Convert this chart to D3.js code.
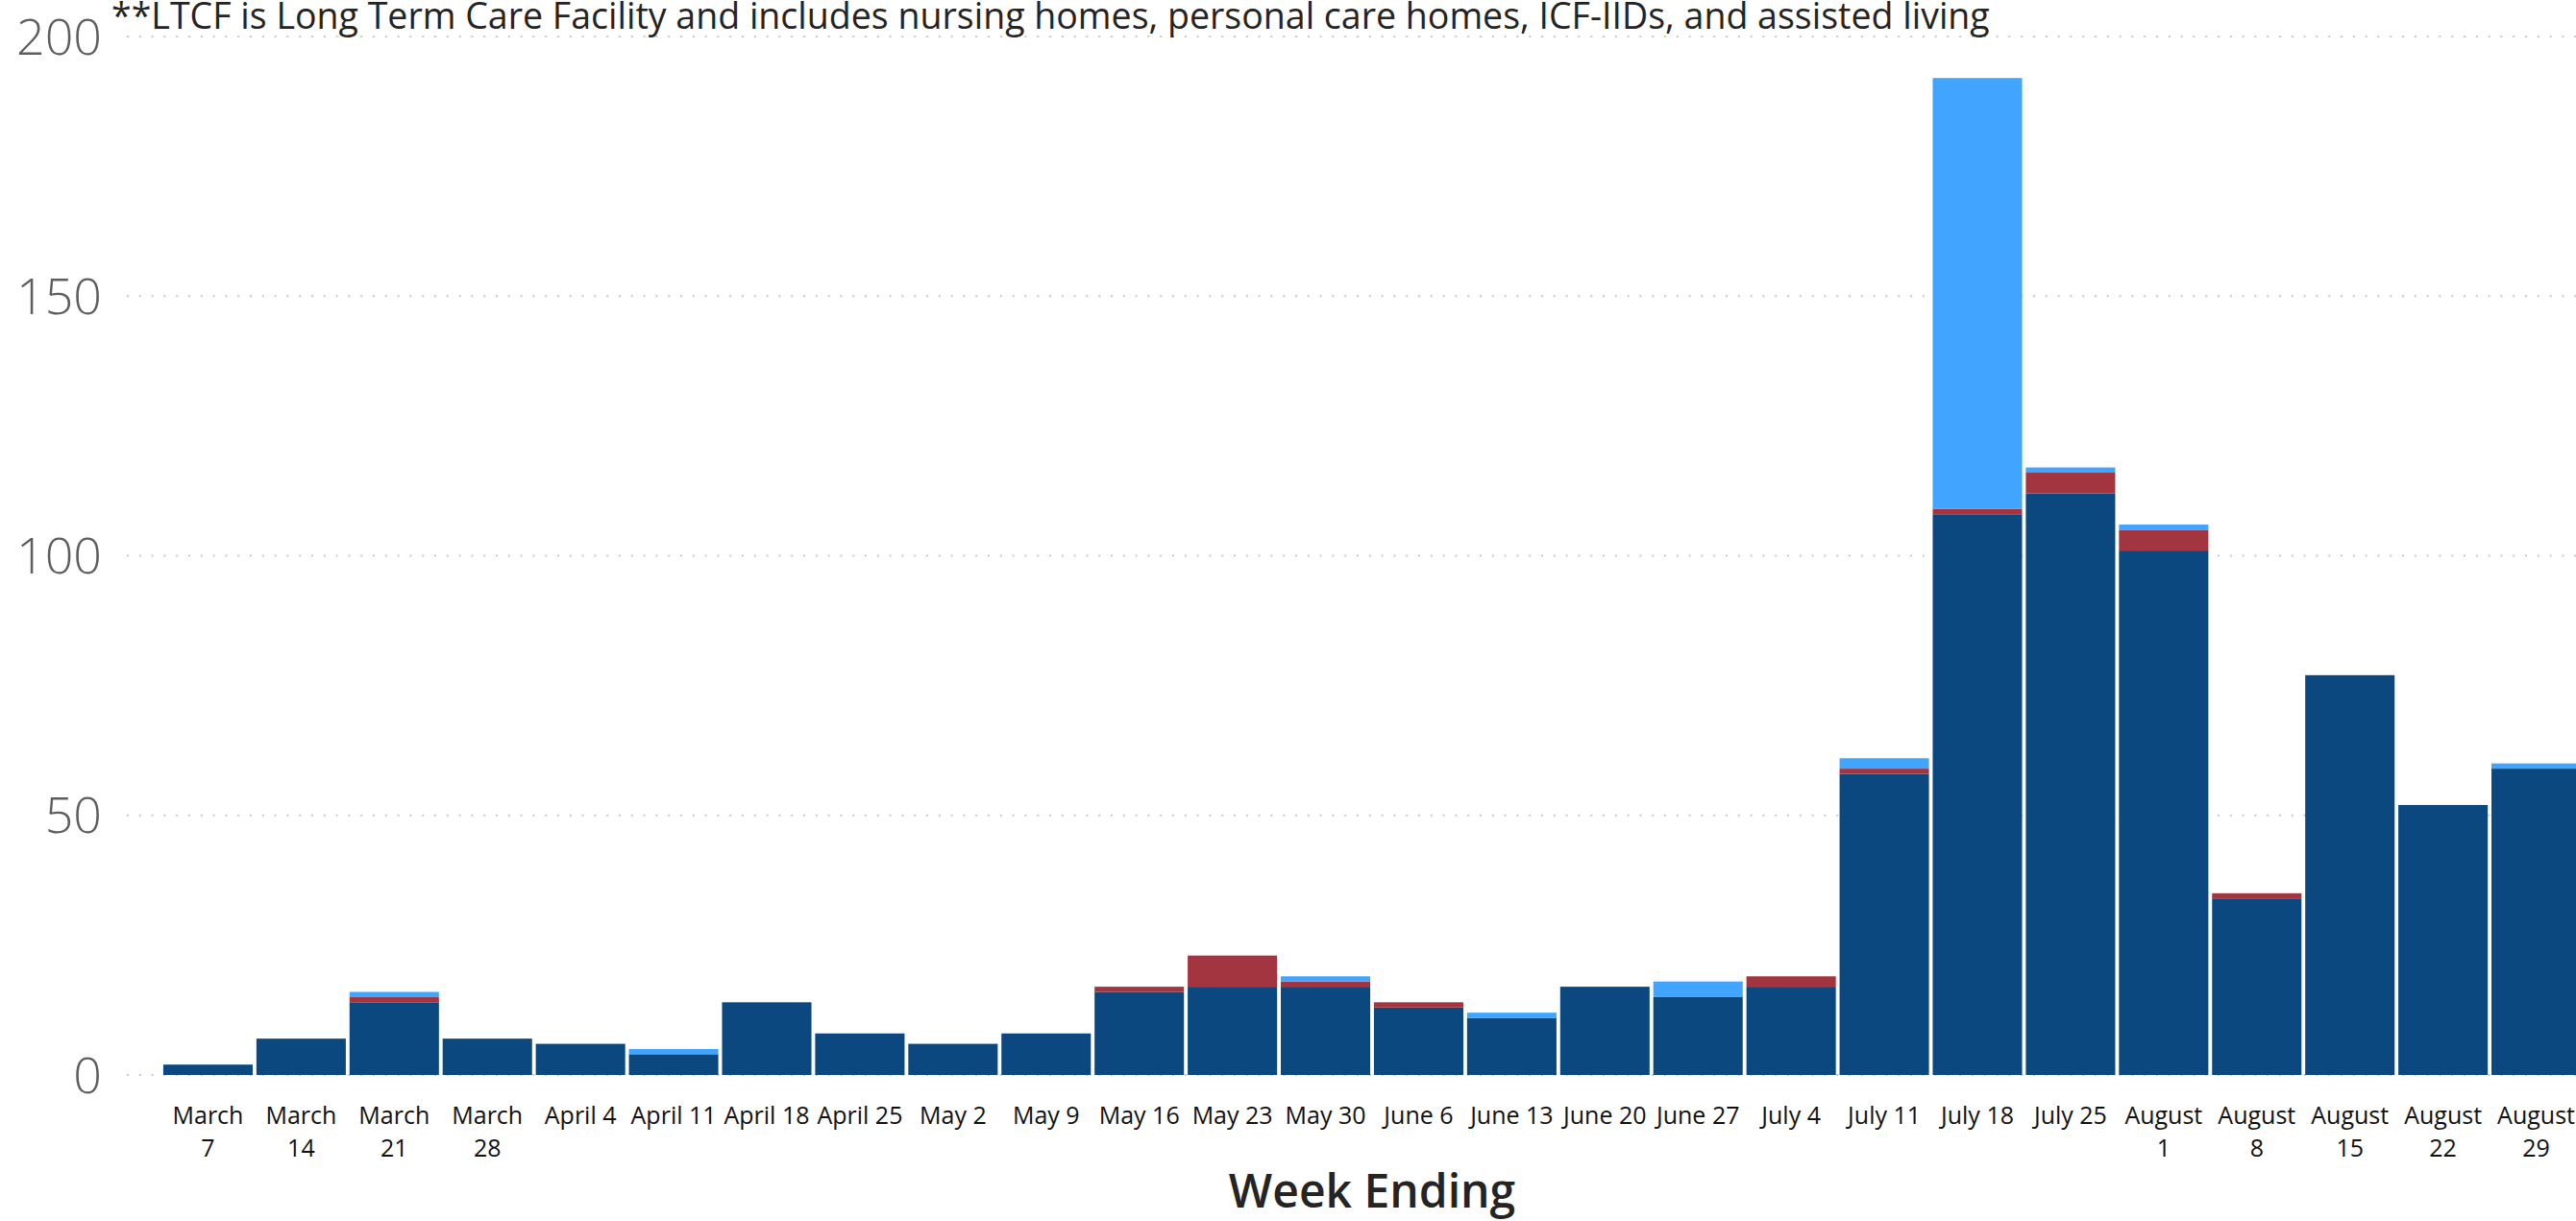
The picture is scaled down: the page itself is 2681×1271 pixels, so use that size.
<!DOCTYPE html>
<html>
<head>
<meta charset="utf-8">
<script src="https://cdn.jsdelivr.net/npm/d3@7"></script>
<style>
  html, body { margin: 0; padding: 0; background: #ffffff; overflow: hidden; }
  svg { display: block; }
</style>
</head>
<body>
<svg id="chart" width="2681" height="1271"></svg>
<script>
// ---- Data ----
const weeks = ["March 7","March 14","March 21","March 28","April 4","April 11","April 18","April 25",
  "May 2","May 9","May 16","May 23","May 30","June 6","June 13","June 20","June 27","July 4",
  "July 11","July 18","July 25","August 1","August 8","August 15","August 22","August 29"];
const seriesKeys = ["nonLTCF", "LTCF", "unknown"];
const nonLTCF = [2,7,14,7,6,4,14,8,6,8,16,17,17,13,11,17,15,17,58,108,112,101,34,77,52,59];
const LTCF    = [0,0,1,0,0,0,0,0,0,0,1,6,1,1,0,0,0,2,1,1,4,4,1,0,0,0];
const unknown = [0,0,1,0,0,1,0,0,0,0,0,0,1,0,1,0,3,0,2,83,1,1,0,0,0,1];
const yTicks = [0, 50, 100, 150, 200];
const seriesColors = ["#0B4880", "#A33540", "#41A4FF"];
const noteText = "**LTCF is Long Term Care Facility and includes nursing homes, personal care homes, ICF-IIDs, and assisted living";
const xTitle = "Week Ending";

// ---- Build table ----
const table = weeks.map((w, i) => ({ week: w, nonLTCF: nonLTCF[i], LTCF: LTCF[i], unknown: unknown[i] }));
const stacked = d3.stack().keys(seriesKeys)(table);

const svg = d3.select("#chart");
const W = 2681, H = 1271;

const x = d3.scaleBand().domain(weeks).range([168, 2688]).paddingInner(0.04).paddingOuter(0.02);
const y = d3.scaleLinear().domain([0, 200]).range([1119, 38]);
const color = d3.scaleOrdinal().domain(seriesKeys).range(seriesColors);

// gridlines
svg.append("g").selectAll("line").data(yTicks).join("line")
  .attr("x1", 132).attr("x2", W)
  .attr("y1", d => y(d)).attr("y2", d => y(d))
  .attr("stroke", "#c8c8c8").attr("stroke-width", 2)
  .attr("stroke-dasharray", "2,10.8");

// y axis labels
const yAxis = d3.axisLeft(y).tickValues(yTicks).tickSize(0).tickPadding(0);
const gy = svg.append("g").attr("transform", "translate(106,0)").call(yAxis);
gy.select(".domain").remove();
gy.selectAll("text")
  .attr("font-family", "'Segoe UI Light','Open Sans','Noto Sans',sans-serif")
  .attr("font-weight", 300)
  .attr("font-size", 52)
  .attr("fill", "#605E5C")
  .attr("dy", "0.35em");

// bars
svg.append("g").selectAll("g").data(stacked).join("g")
  .attr("fill", d => color(d.key))
  .selectAll("rect").data(d => d).join("rect")
  .attr("x", d => x(d.data.week))
  .attr("width", x.bandwidth())
  .attr("y", d => y(d[1]))
  .attr("height", d => Math.max(0, y(d[0]) - y(d[1])));

// x axis labels (wrapped)
const xAxis = d3.axisBottom(x).tickSize(0).tickPadding(0);
const gx = svg.append("g").attr("transform", "translate(0,1119)").call(xAxis);
gx.select(".domain").remove();
gx.selectAll("text").each(function(d) {
  const t = d3.select(this);
  t.text(null)
    .attr("font-family", "'Segoe UI','Open Sans','Noto Sans',sans-serif")
    .attr("font-size", 25)
    .attr("fill", "#111111")
    .attr("y", 0).attr("dy", null);
  const tmp = t.append("tspan").attr("x", 0).attr("y", 51).text(d);
  const len = tmp.node().getComputedTextLength();
  if (len > 92) {
    tmp.remove();
    const parts = d.split(" ");
    const first = parts.slice(0, parts.length - 1).join(" ");
    const last = parts[parts.length - 1];
    t.append("tspan").attr("x", 0).attr("y", 51).text(first);
    t.append("tspan").attr("x", 0).attr("y", 85).text(last);
  }
});

// axis title
svg.append("text")
  .attr("x", (x.range()[0] + x.range()[1]) / 2)
  .attr("y", 1257)
  .attr("text-anchor", "middle")
  .attr("font-family", "'DIN','Open Sans','Noto Sans',sans-serif")
  .attr("font-weight", 600)
  .attr("font-size", 48)
  .attr("fill", "#252423")
  .text(xTitle);

// top note
const note = svg.append("text")
  .attr("x", 116).attr("y", 30)
  .attr("font-family", "'Segoe UI','Open Sans','Noto Sans',sans-serif")
  .attr("font-size", 34)
  .attr("fill", "#252423")
  .text(noteText);
const nl = note.node().getComputedTextLength();
note.attr("font-size", 34 * 1956 / nl);
</script>
</body>
</html>
